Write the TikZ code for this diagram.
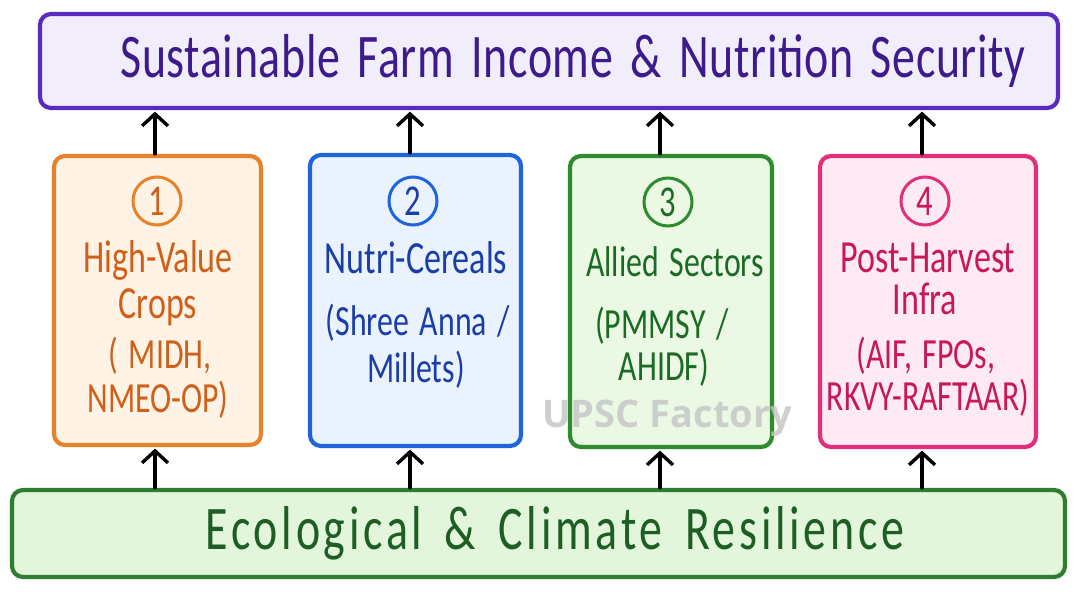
\documentclass[tikz,border=0pt]{standalone}
\usepackage{fontspec}
\usetikzlibrary{arrows.meta,calc}
\newfontfamily\hand[FakeStretch=0.74,WordSpace=1.5]{Carlito}
\newfontfamily\handtitle[FakeStretch=0.74,WordSpace=1.6,LetterSpace=1]{Carlito}
\newfontfamily\handwide[FakeStretch=0.74,WordSpace=1.6,LetterSpace=6]{Carlito}
\newfontfamily\wmfont{Open Sans}
\definecolor{topB}{HTML}{5A2BBE}
\definecolor{topF}{HTML}{F2EDFB}
\definecolor{topT}{HTML}{3D1B8C}
\definecolor{orB}{HTML}{E5822A}
\definecolor{orF}{HTML}{FFF3E6}
\definecolor{orT}{HTML}{CF601C}
\definecolor{blB}{HTML}{1E64DC}
\definecolor{blF}{HTML}{EAF3FD}
\definecolor{blT}{HTML}{1A3EA6}
\definecolor{grB}{HTML}{2E8B2E}
\definecolor{grF}{HTML}{EAF8E4}
\definecolor{grT}{HTML}{1B6B24}
\definecolor{pkB}{HTML}{E0307A}
\definecolor{pkF}{HTML}{FDEAF2}
\definecolor{pkT}{HTML}{C8175A}
\definecolor{btB}{HTML}{2F7D32}
\definecolor{btF}{HTML}{E3F5DA}
\definecolor{btT}{HTML}{1C5E24}
\definecolor{wmC}{HTML}{C4C4C4}
\begin{document}
\begin{tikzpicture}[x=1pt,y=-1pt,
  box/.style={draw, line width=4.2pt, rounded corners=11pt, inner sep=0pt},
  num/.style={circle, draw, line width=3pt, minimum size=48pt, inner sep=0pt, font=\hand\fontsize{44}{44}\selectfont},
  lbl/.style={anchor=base, inner sep=0pt, font=\hand\fontsize{46}{46}\selectfont},
  sub/.style={anchor=base, inner sep=0pt, font=\hand\fontsize{43}{43}\selectfont},
  big/.style={anchor=base, inner sep=0pt, font=\handtitle\fontsize{62}{62}\selectfont},
  arr/.style={line width=3.4pt, -{Straight Barb[length=12pt,width=26pt,line width=3.4pt]}, line cap=round, line join=round, shorten >=1.5pt},
]
\useasboundingbox (0,0) rectangle (1080,592);
\fill[white] (0,0) rectangle (1080,592);

% top and bottom bars
\node[box, draw=topB, fill=topF, minimum width=1018pt, minimum height=94pt] (top) at (549,61) {};
\node[big, text=topT] (title) at (573,77) {Sustainable Farm Income \& Nutrition Security};
\node[box, draw=btB, fill=btF, minimum width=1053pt, minimum height=87pt] (bot) at (538.5,533.5) {};
\node[big, text=btT, font=\handwide\fontsize{62}{62}\selectfont] (btext) at (555,549) {Ecological \& Climate Resilience};

% pillar boxes
\node[box, draw=orB, fill=orF, minimum width=207pt, minimum height=289pt] (b1) at (157.5,300.5) {};
\node[box, draw=blB, fill=blF, minimum width=211pt, minimum height=291pt] (b2) at (415.5,300.5) {};
\node[box, draw=grB, fill=grF, minimum width=202pt, minimum height=291pt] (b3) at (671,301.5) {};
\node[box, draw=pkB, fill=pkF, minimum width=216pt, minimum height=291pt] (b4) at (928,301.5) {};

% watermark
\node[text=wmC, opacity=0.8, font=\wmfont\bfseries\fontsize{38}{38}\selectfont, inner sep=0pt] (wm) at (667,418) {UPSC Factory};

% box 1
\node[num, draw=orB, text=orT] (n1) at (157,201) {1};
\node[lbl, text=orT] (t1a) at (158,272) {High-Value};
\node[lbl, text=orT] (t1b) at (158,318) {Crops};
\node[sub, text=orT] (t1c) at (160,368) {( MIDH,};
\node[sub, text=orT] (t1d) at (158,412) {NMEO-OP)};

% box 2
\node[num, draw=blB, text=blT] (n2) at (413,201) {2};
\node[lbl, text=blT] (t2a) at (416,273) {Nutri-Cereals};
\node[sub, text=blT] (t2b) at (418,335) {(Shree Anna /};
\node[sub, text=blT] (t2c) at (416,382) {Millets)};

% box 3
\node[num, draw=grB, text=grT] (n3) at (668,202) {3};
\node[lbl, text=grT, font=\hand\fontsize{43}{43}\selectfont] (t3a) at (675,276) {Allied Sectors};
\node[sub, text=grT] (t3b) at (662,338) {(PMMSY /};
\node[sub, text=grT] (t3c) at (664,380) {AHIDF)};

% box 4
\node[num, draw=pkB, text=pkT] (n4) at (925,201) {4};
\node[lbl, text=pkT] (t4a) at (928,272) {Post-Harvest};
\node[lbl, text=pkT] (t4b) at (925,314) {Infra};
\node[sub, text=pkT] (t4c) at (926,368) {(AIF, FPOs,};
\node[sub, text=pkT] (t4d) at (928,410) {RKVY-RAFTAAR)};

% arrows up to top bar
\draw[arr] ($(b1.north)+(-2.5,0)$) -- ($(b1.north |- top.south)+(-2.5,0)$);
\draw[arr] ($(b2.north)+(-5.5,0)$) -- ($(b2.north |- top.south)+(-5.5,0)$);
\draw[arr] ($(b3.north)+(-11,0)$) -- ($(b3.north |- top.south)+(-11,0)$);
\draw[arr] ($(b4.north)+(-6,0)$) -- ($(b4.north |- top.south)+(-6,0)$);
% arrows up from bottom bar
\draw[arr] ($(b1.south |- bot.north)+(-2.5,0)$) -- ($(b1.south)+(-2.5,0)$);
\draw[arr] ($(b2.south |- bot.north)+(-5.5,0)$) -- ($(b2.south)+(-5.5,0)$);
\draw[arr] ($(b3.south |- bot.north)+(-11,0)$) -- ($(b3.south)+(-11,0)$);
\draw[arr] ($(b4.south |- bot.north)+(-6,0)$) -- ($(b4.south)+(-6,0)$);
\end{tikzpicture}
\end{document}
